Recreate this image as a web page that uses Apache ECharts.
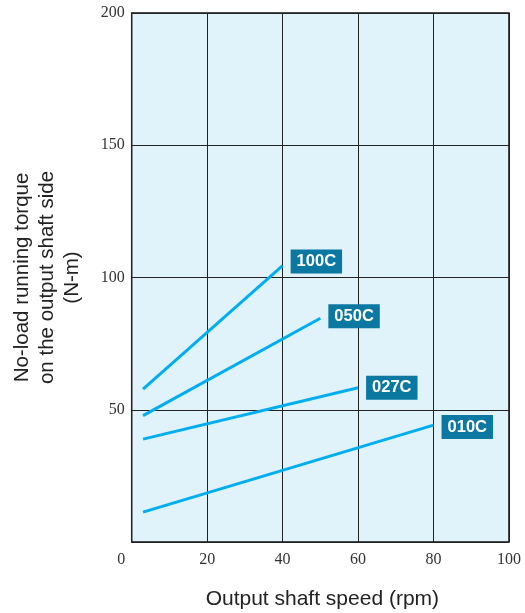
<!DOCTYPE html>
<html>
<head>
<meta charset="utf-8">
<script src="https://cdn.jsdelivr.net/npm/echarts@6/dist/echarts.min.js"></script>
<style>html,body{margin:0;padding:0;background:#fff}#c{width:525px;height:613px}</style>
</head>
<body>
<div id="c"></div>
<script>
var seriesNames = ['100C', '050C', '027C', '010C'];
var speeds100C = [3, 40];   var torque100C = [57.8, 104.5];
var speeds050C = [3, 50];   var torque050C = [47.8, 84.6];
var speeds027C = [3, 60];   var torque027C = [38.9, 58.3];
var speeds010C = [3, 80];   var torque010C = [11.3, 44.2];
var xTicks = [0, 20, 40, 60, 80, 100];
var yTicks = [0, 50, 100, 150, 200];

var xs = [speeds100C, speeds050C, speeds027C, speeds010C];
var ys = [torque100C, torque050C, torque027C, torque010C];
var labelOffsets = [[0, -4], [0, -2], [0, 0], [0, 2]];

function pairs(a, b) { return a.map(function (v, i) { return [v, b[i]]; }); }

var series = seriesNames.map(function (name, k) {
  return {
    name: name, type: 'line', symbol: 'none', silent: true,
    lineStyle: { color: '#00aeef', width: 3 },
    endLabel: {
      show: true, distance: 8, offset: labelOffsets[k],
      formatter: name, color: '#fff', fontWeight: 'bold', fontSize: 16.5,
      fontFamily: 'Liberation Sans, Arial, sans-serif',
      backgroundColor: '#0a78a0', padding: [4, 6, 3, 6]
    },
    data: pairs(xs[k], ys[k])
  };
});

var chart = echarts.init(document.getElementById('c'));
chart.setOption({
  animation: false,
  grid: { left: 131.7, right: 16, top: 13, bottom: 71, outerBoundsMode: 'none', containLabel: false, show: true, backgroundColor: '#e0f2fa', borderColor: '#111', borderWidth: 1.5 },
  xAxis: {
    type: 'value', min: xTicks[0], max: xTicks[xTicks.length - 1], interval: 20,
    name: 'Output shaft speed (rpm)', nameLocation: 'middle', nameGap: 47,
    nameTextStyle: { fontFamily: 'Liberation Sans, Arial, sans-serif', fontSize: 21, color: '#222', padding: [0, 0, 0, 4] },
    axisLine: { show: false }, axisTick: { show: false },
    splitLine: { show: true, lineStyle: { color: '#222', width: 1 } },
    axisLabel: {
      margin: 10, fontFamily: 'Liberation Serif, Times New Roman, serif', fontSize: 16, color: '#333',
      formatter: function (v) { return v === 0 ? '{z|0}' : String(v); },
      rich: { z: { padding: [0, 21, 0, 0], fontFamily: 'Liberation Serif, Times New Roman, serif', fontSize: 16, color: '#333' } }
    }
  },
  yAxis: {
    type: 'value', min: yTicks[0], max: yTicks[yTicks.length - 1], interval: 50,
    name: 'No-load running torque\non the output shaft side\n(N-m)', nameLocation: 'middle', nameGap: 47, nameRotate: 90,
    nameTextStyle: { fontFamily: 'Liberation Sans, Arial, sans-serif', fontSize: 20.5, color: '#222', lineHeight: 25 },
    axisLine: { show: false }, axisTick: { show: false },
    splitLine: { show: true, lineStyle: { color: '#222', width: 1 } },
    axisLabel: {
      margin: 7, fontFamily: 'Liberation Serif, Times New Roman, serif', fontSize: 16, color: '#333',
      formatter: function (v) { return v === 0 ? '' : String(v); }
    }
  },
  series: series
});
</script>
</body>
</html>
